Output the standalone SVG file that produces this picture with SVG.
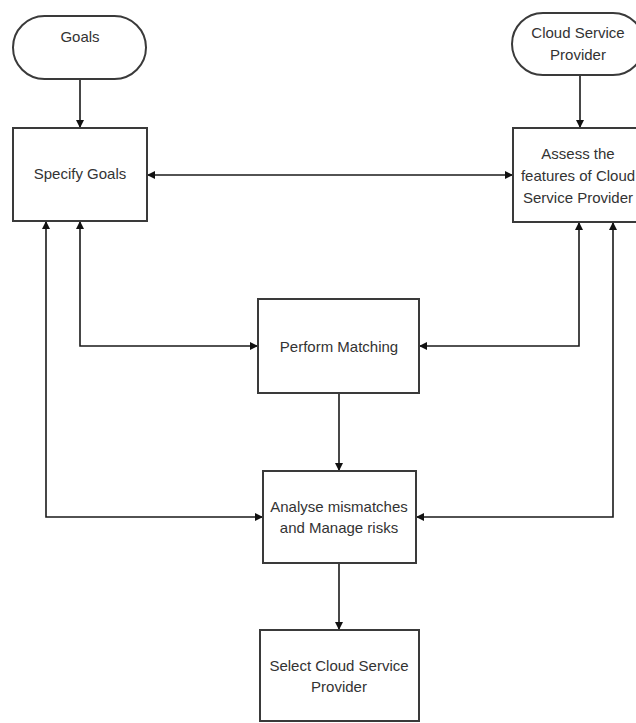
<svg xmlns="http://www.w3.org/2000/svg" width="636" height="723" viewBox="0 0 636 723">
  <defs>
    <marker id="arrow" viewBox="0 0 10 10" refX="10" refY="5" markerWidth="9" markerHeight="8" markerUnits="userSpaceOnUse" orient="auto-start-reverse">
      <path d="M0,0 L10,5 L0,10 z" fill="#111"/>
    </marker>
    <style>
      .box { fill: #ffffff; stroke: #3a3a3a; stroke-width: 2; }
      .label { font-family: "Liberation Sans", Arial, sans-serif; font-size: 15px; fill: #333333; text-anchor: middle; }
      .conn { fill: none; stroke: #1a1a1a; stroke-width: 1.6; }
    </style>
  </defs>
  <rect width="636" height="723" fill="#ffffff"/>

  <g id="connectors">
    <path class="conn" d="M80,79 V128" marker-end="url(#arrow)"/>
    <path class="conn" d="M580,75 V128" marker-end="url(#arrow)"/>
    <path class="conn" d="M147,175 H513" marker-start="url(#arrow)" marker-end="url(#arrow)"/>
    <path class="conn" d="M80,221 V346 H258" marker-start="url(#arrow)" marker-end="url(#arrow)"/>
    <path class="conn" d="M579,222 V346 H419" marker-start="url(#arrow)" marker-end="url(#arrow)"/>
    <path class="conn" d="M46,221 V517 H263" marker-start="url(#arrow)" marker-end="url(#arrow)"/>
    <path class="conn" d="M613,222 V517 H416" marker-start="url(#arrow)" marker-end="url(#arrow)"/>
    <path class="conn" d="M339,393 V471" marker-end="url(#arrow)"/>
    <path class="conn" d="M339,563 V630" marker-end="url(#arrow)"/>
  </g>

  <g id="goals">
    <rect class="box" x="13" y="16" width="133" height="63" rx="31.5" ry="31.5"/>
    <text class="label" x="80" y="42">Goals</text>
  </g>

  <g id="cloud-service-provider">
    <rect class="box" x="512" y="13" width="132" height="62" rx="31" ry="31"/>
    <text class="label" x="578" y="38">Cloud Service</text>
    <text class="label" x="578" y="60">Provider</text>
  </g>

  <g id="specify-goals">
    <rect class="box" x="13" y="128" width="134" height="93"/>
    <text class="label" x="80" y="179">Specify Goals</text>
  </g>

  <g id="assess-features">
    <rect class="box" x="513" y="128" width="130" height="94"/>
    <text class="label" x="578" y="159">Assess the</text>
    <text class="label" x="578" y="181">features of Cloud</text>
    <text class="label" x="578" y="203">Service Provider</text>
  </g>

  <g id="perform-matching">
    <rect class="box" x="258" y="299" width="161" height="94"/>
    <text class="label" x="339" y="352">Perform Matching</text>
  </g>

  <g id="analyse-mismatches">
    <rect class="box" x="263" y="471" width="153" height="92"/>
    <text class="label" x="339" y="512">Analyse mismatches</text>
    <text class="label" x="339" y="533">and Manage risks</text>
  </g>

  <g id="select-provider">
    <rect class="box" x="260" y="630" width="159" height="91"/>
    <text class="label" x="339" y="671">Select Cloud Service</text>
    <text class="label" x="339" y="692">Provider</text>
  </g>
</svg>
